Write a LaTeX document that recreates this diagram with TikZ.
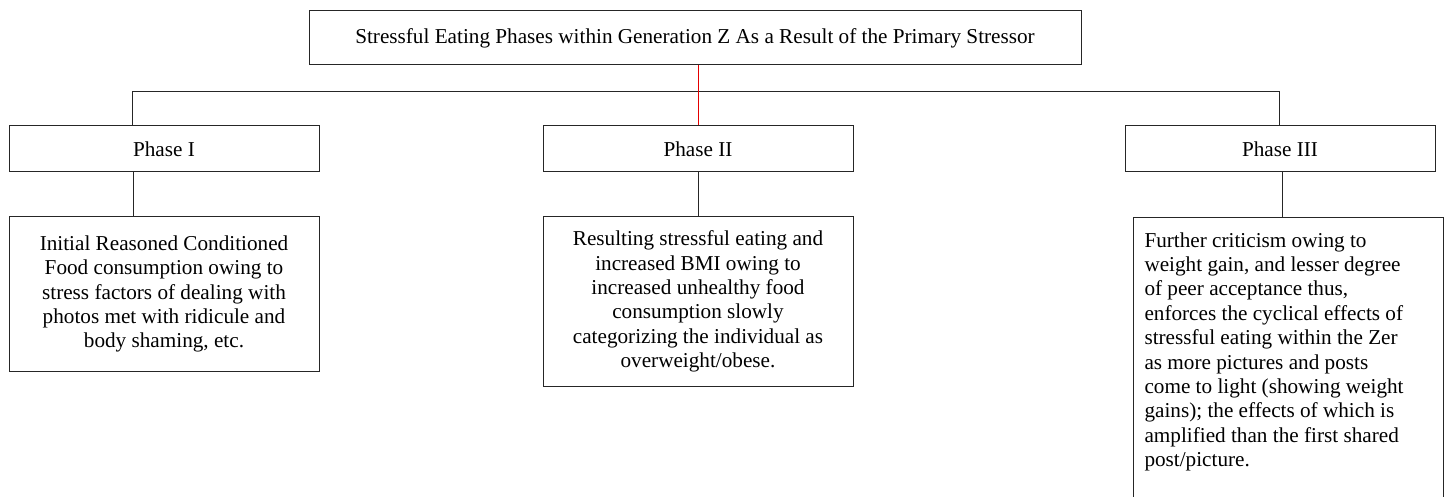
\documentclass[tikz,border=0pt]{standalone}
\usepackage{fontspec}
\setmainfont{Liberation Serif}
\begin{document}
\begin{tikzpicture}[x=1pt,y=-1pt,
  box/.style={draw=black!85, line width=1pt, inner sep=0pt, fill=white,
    font=\fontsize{21.2}{24.4}\selectfont},
  link/.style={draw=black!85, line width=1pt},
  redlink/.style={draw=red!90!black, line width=1pt}]
\useasboundingbox (0,0) rectangle (1451,497);
\clip (0,0) rectangle (1451,497);
% title
\node[box, minimum width=772pt, minimum height=54pt] (title) at (695,38)
  {Stressful Eating Phases within Generation Z As a Result of the Primary Stressor};
% phases
\node[box, minimum width=310pt, minimum height=46pt] (p1) at (164,149) {Phase I};
\node[box, minimum width=310pt, minimum height=46pt] (p2) at (698,149) {Phase II};
\node[box, minimum width=310pt, minimum height=46pt] (p3) at (1280,149) {Phase III};
% details
\node[box, minimum width=310pt, minimum height=154pt, align=center] (d1) at (164,294)
  {Initial Reasoned Conditioned\\Food consumption owing to\\stress factors of dealing with\\photos met with ridicule and\\body shaming, etc.};
\node[box, minimum width=310pt, minimum height=169pt, align=center] (d2) at (698,301.5)
  {Resulting stressful eating and\\increased BMI owing to\\increased unhealthy food\\consumption slowly\\categorizing the individual as\\overweight/obese.};
\node[box, anchor=north west, inner xsep=11pt, inner ysep=0pt] (d3) at (1133,217)
  {\parbox[c][300pt][t]{288pt}{\raggedright
  \rule{0pt}{29.5pt}Further criticism owing to\\
  weight gain, and lesser degree\\
  of peer acceptance thus,\\
  enforces the cyclical effects of\\
  stressful eating within the Zer\\
  as more pictures and posts\\
  come to light (showing weight\\
  gains); the effects of which is\\
  amplified than the first shared\\
  post/picture.}};
% connectors
\coordinate (bl) at (132,92);
\coordinate (br) at (1279,92);
\draw[link] (p1.north -| bl) -- (bl) -- (br) -- (p3.north -| br);
\draw[redlink] (title.south -| p2.north) -- (p2.north);
\coordinate (c1) at (133,0);
\coordinate (c3) at (1282,0);
\draw[link] (p1.south -| c1) -- (d1.north -| c1);
\draw[link] (p2.south) -- (d2.north);
\draw[link] (p3.south -| c3) -- (d3.north -| c3);
\end{tikzpicture}
\end{document}
